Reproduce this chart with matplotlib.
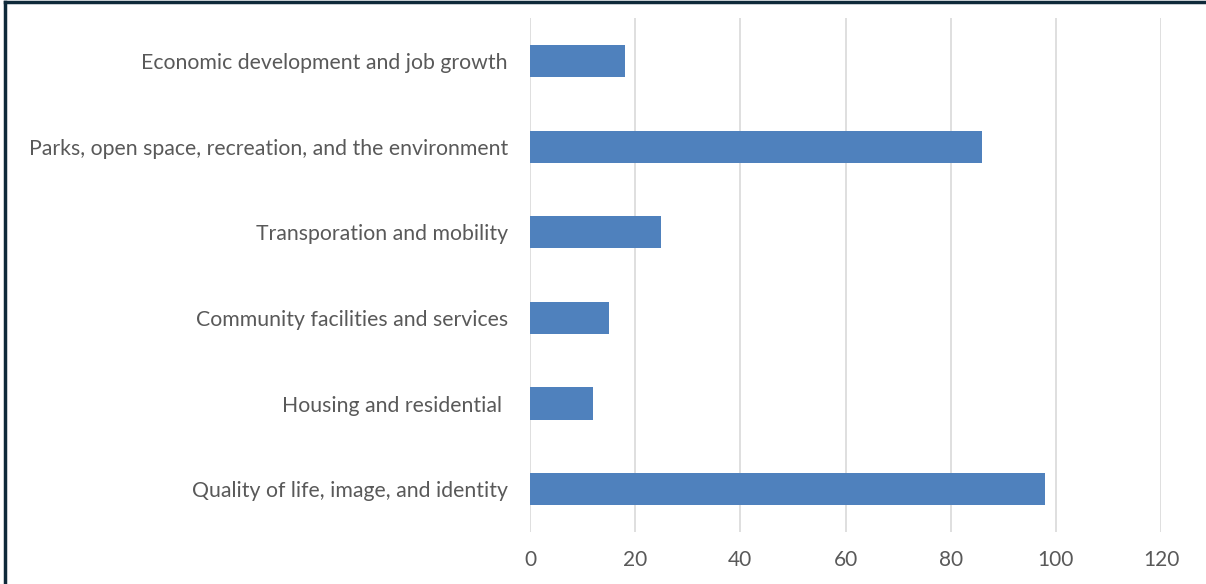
import matplotlib.pyplot as plt
from matplotlib.lines import Line2D

categories = ['Quality of life, image, and identity',
              'Housing and residential ',
              'Community facilities and services',
              'Transporation and mobility',
              'Parks, open space, recreation, and the environment',
              'Economic development and job growth']
values = [98, 12, 15, 25, 86, 18]
xticks = [0, 20, 40, 60, 80, 100, 120]

plt.rcParams['font.family'] = ['Lato', 'DejaVu Sans']

fig = plt.figure(figsize=(12.06, 5.84), dpi=100)
ax = fig.add_axes([0.4395, 0.089, 0.5232, 0.880])

ax.barh(range(len(categories)), values, height=0.375, color='#4f81bd', zorder=3)
ax.set_yticks(range(len(categories)))
ax.set_yticklabels(categories, fontsize=15.3, color='#595959')
ax.set_ylim(-0.5, len(categories) - 0.5)
ax.set_xlim(0, 120)
ax.set_xticks(xticks)
ax.set_xticklabels([str(t) for t in xticks], fontsize=15, color='#595959')
ax.grid(axis='x', color='#d9d9d9', linewidth=1.2, zorder=0)
ax.tick_params(axis='y', length=0, pad=16)
ax.tick_params(axis='x', length=0, pad=13)
for s in ax.spines.values():
    s.set_visible(False)

# dark frame on top and left edges
fig.add_artist(Line2D([0.004, 0.004], [0, 0.996], transform=fig.transFigure,
                      color='#0f2a3a', linewidth=2.5))
fig.add_artist(Line2D([0.004, 1], [0.996, 0.996], transform=fig.transFigure,
                      color='#0f2a3a', linewidth=2.5))

fig.savefig('out.png', dpi=100)
